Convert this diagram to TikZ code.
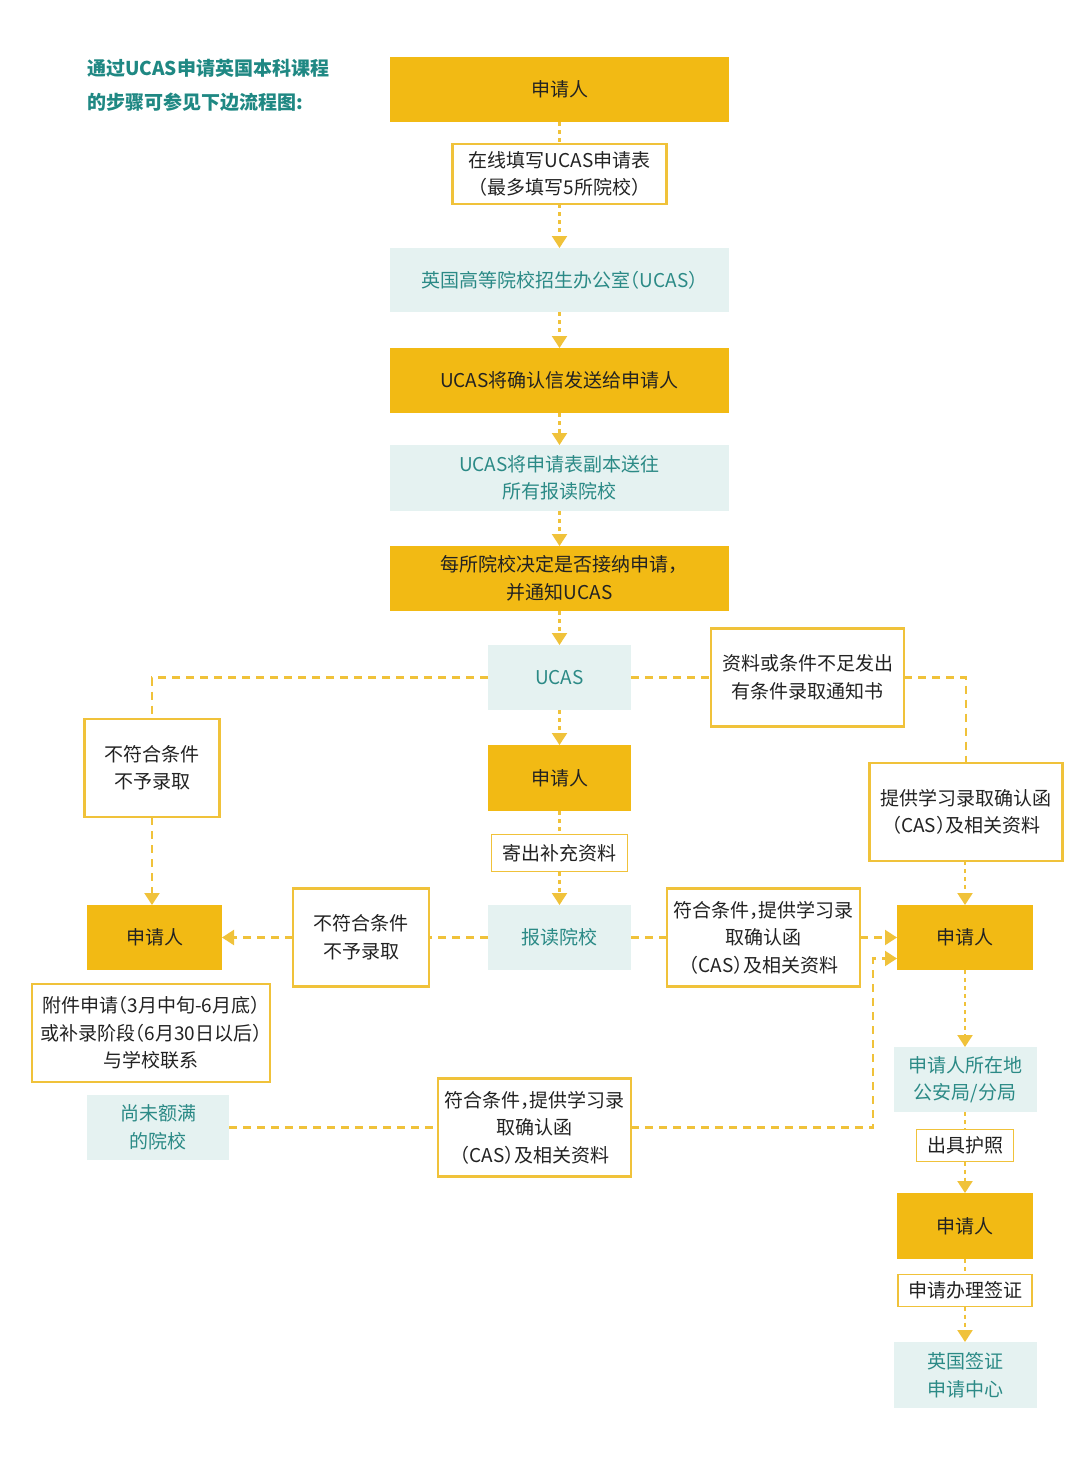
\documentclass[tikz,border=0pt]{standalone}
\usepackage{fontspec}
\setmainfont{Noto Sans CJK SC}[RawFeature=+halt]
\usetikzlibrary{arrows.meta}
\definecolor{ygold}{HTML}{F2BA14}
\definecolor{yline}{HTML}{F0C23A}
\definecolor{tealfill}{HTML}{E5F2F1}
\definecolor{tealtext}{HTML}{2B8A86}
\definecolor{titleteal}{HTML}{1F8883}
\definecolor{darktext}{HTML}{222222}
\begin{document}
\begin{tikzpicture}[x=1pt,y=-1pt,
  base/.style={inner sep=0pt, outer sep=0pt, align=center, font=\fontsize{19}{27.5}\selectfont},
  gold/.style={base, fill=ygold, text=darktext},
  tealbox/.style={base, fill=tealfill, text=tealtext},
  wbox/.style={base, fill=white, draw=yline, line width=2.5pt, text=darktext},
  wthin/.style={base, fill=white, draw=yline, line width=1.5pt, text=darktext},
  hlink/.style={draw=yline, line width=2.2pt, dash pattern=on 8pt off 6pt},
  vlink/.style={draw=yline, line width=2.2pt, dash pattern=on 4pt off 4pt},
  arr/.style={-{Triangle[width=15pt,length=12pt]}},
  titlestyle/.style={inner sep=0pt, anchor=west, text=titleteal, font=\fontsize{19}{24}\selectfont\bfseries}
]
\useasboundingbox[fill=white] (0,0) rectangle (1080,1470);

% title
\node[titlestyle] (t1) at (87,68) {通过UCAS申请英国本科课程};
\node[titlestyle] (t2) at (87,102) {的步骤可参见下边流程图:};

% central column
\node[gold, minimum width=339pt, minimum height=65pt] (a1) at (559.5,89.5) {申请人};
\node[wbox, minimum width=214pt, minimum height=60pt] (b1) at (559.5,174) {在线填写UCAS申请表\\（最多填写5所院校）};
\node[tealbox, minimum width=339pt, minimum height=64pt] (c1) at (559.5,280) {英国高等院校招生办公室（UCAS）};
\node[gold, minimum width=339pt, minimum height=65pt] (a2) at (559.5,380.5) {UCAS将确认信发送给申请人};
\node[tealbox, minimum width=339pt, minimum height=66pt] (c2) at (559.5,478) {UCAS将申请表副本送往\\所有报读院校};
\node[gold, minimum width=339pt, minimum height=65pt] (a3) at (559.5,578.5) {每所院校决定是否接纳申请，\\并通知UCAS};
\node[tealbox, minimum width=143pt, minimum height=65pt] (c3) at (559.5,677.5) {UCAS};
\node[gold, minimum width=143pt, minimum height=66pt] (a4) at (559.5,778) {申请人};
\node[wthin, minimum width=136pt, minimum height=37pt] (b4) at (559.5,853) {寄出补充资料};
\node[tealbox, minimum width=143pt, minimum height=65pt] (c4) at (559.5,937.5) {报读院校};

% right upper
\node[wbox, minimum width=193pt, minimum height=98pt] (b2) at (807.5,677.5) {资料或条件不足发出\\有条件录取通知书};
\node[wbox, minimum width=193pt, minimum height=98pt] (b5) at (966,812) {提供学习录取确认函\\（CAS）及相关资料};

% left upper
\node[wbox, minimum width=135pt, minimum height=98pt] (b3) at (152,768) {不符合条件\\不予录取};
\node[gold, minimum width=135pt, minimum height=65pt] (a5) at (154.5,937.5) {申请人};
\node[wbox, minimum width=136pt, minimum height=98pt] (b6) at (361,937.5) {不符合条件\\不予录取};
\node[wbox, minimum width=193pt, minimum height=98pt] (b7) at (763.5,937.5) {符合条件，提供学习录\\取确认函\\（CAS）及相关资料};
\node[gold, minimum width=136pt, minimum height=65pt] (a6) at (965,937.5) {申请人};

% lower left
\node[wbox, minimum width=238pt, minimum height=98pt] (b8) at (151,1033) {附件申请（3月中旬-6月底）\\或补录阶段（6月30日以后）\\与学校联系};
\node[tealbox, minimum width=142pt, minimum height=65pt] (c5) at (158,1127.5) {尚未额满\\的院校};
\node[wbox, minimum width=193pt, minimum height=98pt] (b9) at (534.5,1127.5) {符合条件，提供学习录\\取确认函\\（CAS）及相关资料};

% right lower column
\node[tealbox, minimum width=143pt, minimum height=65pt] (c6) at (965,1079.5) {申请人所在地\\公安局/分局};
\node[wthin, minimum width=97pt, minimum height=32pt] (b10) at (965,1145.5) {出具护照};
\node[gold, minimum width=136pt, minimum height=66pt] (a7) at (965,1226) {申请人};
\node[wthin, minimum width=134pt, minimum height=32pt] (b11) at (965,1290.5) {申请办理签证};
\node[tealbox, minimum width=143pt, minimum height=66pt] (c7) at (965,1375) {英国签证\\申请中心};

% vertical connectors, central
\draw[vlink] (a1.south) -- (b1.north);
\draw[vlink, arr] (b1.south) -- (c1.north);
\draw[vlink, arr] (c1.south) -- (a2.north);
\draw[vlink, arr] (a2.south) -- (c2.north);
\draw[vlink, arr] (c2.south) -- (a3.north);
\draw[vlink, arr] (a3.south) -- (c3.north);
\draw[vlink, arr] (c3.south) -- (a4.north);
\draw[vlink] (a4.south) -- (b4.north);
\draw[vlink, arr] (b4.south) -- (c4.north);

% UCAS branches
\draw[hlink] (c3.west) -| (b3.north);
\draw[hlink, arr] (b3.south) -- (b3.south |- a5.north);
\draw[hlink] (c3.east) -- (b2.west);
\draw[hlink] (b2.east) -| (b5.north);
\draw[vlink, arr] (b5.south -| a6.north) -- (a6.north);

% school branches
\draw[hlink] (c4.west) -- (b6.east);
\draw[hlink, arr] (b6.west) -- (a5.east);
\draw[hlink] (c4.east) -- (b7.west);
\draw[hlink, arr] (b7.east) -- (a6.west);

% lower route
\coordinate (j1) at (873,1127.5);
\draw[hlink] (c5.east) -- (b9.west);
\draw[hlink, arr] (b9.east) -- (j1) |- ([yshift=-21pt]a6.west);

% right lower
\draw[vlink, arr] (a6.south) -- (c6.north);
\draw[vlink] (c6.south) -- (b10.north);
\draw[vlink, arr] (b10.south) -- (a7.north);
\draw[vlink] (a7.south) -- (b11.north);
\draw[vlink, arr] (b11.south) -- (c7.north);
\end{tikzpicture}
\end{document}
